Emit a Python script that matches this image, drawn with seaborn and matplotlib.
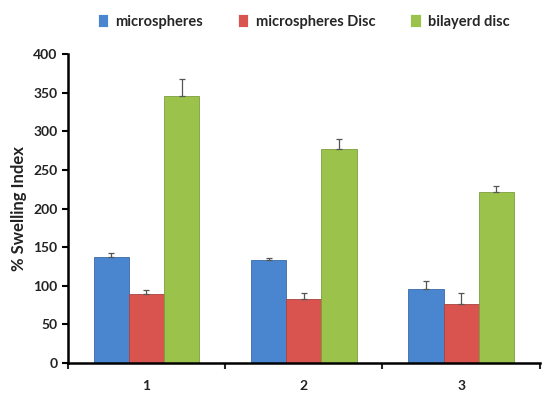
import matplotlib
matplotlib.use("Agg")
import matplotlib.pyplot as plt
import numpy as np
import pandas as pd
import seaborn as sns
from matplotlib.ticker import FixedLocator

sns.set_theme(style="white")
plt.rcParams["font.family"] = ["Lato", "DejaVu Sans"]

categories = ["1", "2", "3"]
series = ["microspheres", "microspheres Disc", "bilayerd disc"]
microspheres = [137, 133, 96]
microspheres_disc = [89, 83, 76]
bilayerd_disc = [345, 277, 222]
err_microspheres = [6, 3, 10]
err_microspheres_disc = [6, 8, 15]
err_bilayerd_disc = [22, 13, 7]

colors = ["#4a86d0", "#d9534f", "#9bc24a"]
edges = ["#3b6aa8", "#a84340", "#7d9c3c"]

values = [microspheres, microspheres_disc, bilayerd_disc]
errors = [err_microspheres, err_microspheres_disc, err_bilayerd_disc]

df = pd.DataFrame({
    "group": np.repeat([categories], 3, axis=0).ravel(),
    "series": np.repeat(series, 3),
    "value": np.concatenate(values),
    "err": np.concatenate(errors),
})

fig = plt.figure(figsize=(5.42, 4.0), dpi=100)
ax = fig.add_axes([0.125, 0.0925, 0.871, 0.7725])

sns.barplot(data=df, x="group", y="value", hue="series", order=categories,
            hue_order=series, palette=colors, width=0.67, saturation=1,
            errorbar=None, ax=ax, legend=True, linewidth=0.6)

for i, s in enumerate(series):
    cont = ax.containers[i]
    for p in cont.patches:
        p.set_edgecolor(edges[i])
    sub = df[df["series"] == s]
    xs = [p.get_x() + p.get_width() / 2 for p in cont.patches]
    ax.errorbar(xs, sub["value"].values, yerr=[np.zeros(3), sub["err"].values],
                fmt="none", ecolor="#555555", elinewidth=0.9, capsize=2.5, capthick=0.9)

ax.set_ylim(0, 400)
ax.set_xlim(-0.5, 2.5)
ax.set_yticks(range(0, 401, 50))
ax.set_xlabel("")
ax.set_ylabel("% Swelling Index", fontsize=12, fontweight="bold", color="#222222")

for side in ["top", "right"]:
    ax.spines[side].set_visible(False)
ax.spines["left"].set_linewidth(1.8)
ax.spines["bottom"].set_linewidth(1.8)
ax.spines["left"].set_color("black")
ax.spines["bottom"].set_color("black")

ax.tick_params(axis="y", direction="out", length=4, width=1.5, left=True,
               labelsize=10, colors="black")
ax.tick_params(axis="x", which="major", length=0, labelsize=10, pad=12)
ax.xaxis.set_minor_locator(FixedLocator([-0.5, 0.5, 1.5, 2.5]))
ax.tick_params(axis="x", which="minor", direction="out", length=4, width=1.5, bottom=True)
for lab in ax.get_xticklabels() + ax.get_yticklabels():
    lab.set_fontweight("bold")
    lab.set_color("#222222")

handles, labels = ax.get_legend_handles_labels()
ax.legend(handles, labels, loc="lower center", bbox_to_anchor=(0.5, 1.04), ncol=3,
          frameon=False, handlelength=0.7, handleheight=0.9,
          columnspacing=2.4, handletextpad=0.5, prop={"weight": "bold", "size": 10.5})

fig.savefig("out.png", dpi=100)
